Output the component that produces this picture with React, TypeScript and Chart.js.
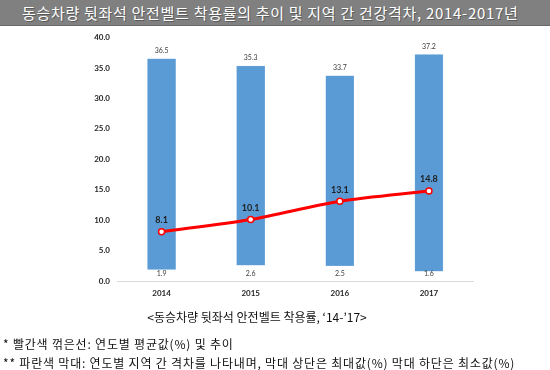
import React, { useEffect, useRef } from "react";
import { Chart, registerables } from "chart.js";

Chart.register(...registerables);

const years = ["2014", "2015", "2016", "2017"];
const maxValues = [36.5, 35.3, 33.7, 37.2];
const minValues = [1.9, 2.6, 2.5, 1.6];
const avgValues = [8.1, 10.1, 13.1, 14.8];
const yTicks = [0, 5, 10, 15, 20, 25, 30, 35, 40];

const titleText = "동승차량 뒷좌석 안전벨트 착용률의 추이 및 지역 간 건강격차, 2014-2017년";
const captionText = "<동승차량 뒷좌석 안전벨트 착용률, ‘14-’17>";
const note1 = "* 빨간색 꺾은선: 연도별 평균값(%) 및 추이";
const note2 = "** 파란색 막대: 연도별 지역 간 격차를 나타내며, 막대 상단은 최대값(%) 막대  하단은 최소값(%)";

const labelPlugin = {
  id: "valueLabels",
  afterDatasetsDraw(chart: any) {
    const ctx = chart.ctx;
    const x = chart.scales.x;
    const y = chart.scales.y;
    ctx.save();
    ctx.textAlign = "center";
    ctx.textBaseline = "middle";
    ctx.font = "7px Lato";
    ctx.fillStyle = "#404040";
    years.forEach((_, i) => {
      const cx = x.getPixelForValue(i);
      ctx.fillText(maxValues[i].toFixed(1), cx, y.getPixelForValue(maxValues[i]) - 8);
      ctx.fillText(minValues[i].toFixed(1), cx, y.getPixelForValue(0) - 7.5);
    });
    ctx.font = "bold 9px Lato";
    ctx.fillStyle = "#1f1f1f";
    years.forEach((_, i) => {
      const cx = x.getPixelForValue(i);
      ctx.fillText(avgValues[i].toFixed(1), cx, y.getPixelForValue(avgValues[i]) - 11.5);
    });
    ctx.restore();
  },
};

export default function App() {
  const canvasRef = useRef<HTMLCanvasElement>(null);

  useEffect(() => {
    document.body.style.margin = "0";
    const canvas = canvasRef.current;
    if (!canvas) return;
    const chart = new Chart(canvas, {
      type: "bar",
      data: {
        labels: years,
        datasets: [
          {
            type: "line",
            label: "평균",
            data: avgValues,
            borderColor: "#ff0000",
            borderWidth: 3,
            backgroundColor: "#ffffff",
            pointBackgroundColor: "#ffffff",
            pointBorderColor: "#ff0000",
            pointBorderWidth: 1.5,
            pointRadius: 3,
            tension: 0.3,
            order: 0,
          } as any,
          {
            type: "bar",
            label: "범위",
            data: years.map((_, i) => [minValues[i], maxValues[i]]),
            backgroundColor: "#5b9bd5",
            borderColor: "#7fb1e0",
            borderWidth: 0.5,
            borderSkipped: false,
            barThickness: 28,
            order: 1,
          } as any,
        ],
      },
      options: {
        animation: false,
        responsive: false,
        maintainAspectRatio: false,
        events: [],
        layout: { padding: { left: 60, right: 76.5, top: 37.5, bottom: 0 } },
        plugins: {
          legend: { display: false },
          tooltip: { enabled: false },
          title: { display: false },
        },
        scales: {
          x: {
            grid: { display: false, drawTicks: false },
            border: { display: true, color: "#d9d9d9", width: 1 },
            ticks: {
              padding: 8,
              color: "#262626",
              font: { family: "Lato", size: 8, weight: "bold" },
            },
            afterFit(scale: any) {
              scale.height = 89;
            },
          },
          y: {
            min: 0,
            max: 40,
            afterBuildTicks(scale: any) {
              scale.ticks = yTicks.map((v) => ({ value: v }));
            },
            grid: { display: false, drawTicks: false },
            border: { display: false },
            ticks: {
              padding: 7,
              color: "#262626",
              font: { family: "Lato", size: 8, weight: "bold" },
              callback: (v: any) => Number(v).toFixed(1),
            },
            afterFit(scale: any) {
              scale.width = 57;
            },
          },
        },
      },
      plugins: [labelPlugin],
    });
    return () => chart.destroy();
  }, []);

  const noteStyle: React.CSSProperties = {
    position: "absolute",
    left: 3,
    fontFamily: "'Noto Sans CJK KR'",
    fontSize: 12,
    letterSpacing: "0.8px",
    lineHeight: "16px",
    color: "#111",
    whiteSpace: "nowrap",
  };

  return (
    <div style={{ position: "absolute", left: 0, top: 0, width: 550, height: 370, background: "#fff", overflow: "hidden" }}>
      <div
        style={{
          position: "absolute",
          left: 0,
          top: 0,
          width: 550,
          height: 25,
          background: "#808080",
          borderBottom: "1px solid #6a6a6a",
        }}
      />
      <div
        style={{
          position: "absolute",
          left: 22,
          top: 2,
          fontFamily: "'Noto Sans CJK KR'",
          fontSize: 15,
          letterSpacing: "0.7px",
          lineHeight: "21px",
          color: "#ffffff",
          whiteSpace: "nowrap",
          textShadow: "1px 1px 0 #5a5a5a",
        }}
      >
        {titleText}
      </div>
      <canvas ref={canvasRef} width={550} height={370} style={{ position: "absolute", left: 0, top: 0 }} />
      <div
        style={{
          position: "absolute",
          left: 0,
          width: 514,
          top: 309,
          textAlign: "center",
          fontFamily: "'Noto Sans CJK KR'",
          fontSize: 12,
          lineHeight: "16px",
          color: "#111",
          whiteSpace: "nowrap",
        }}
      >
        {captionText}
      </div>
      <div style={{ ...noteStyle, top: 336 }}>{note1}</div>
      <div style={{ ...noteStyle, top: 355 }}>{note2}</div>
    </div>
  );
}
